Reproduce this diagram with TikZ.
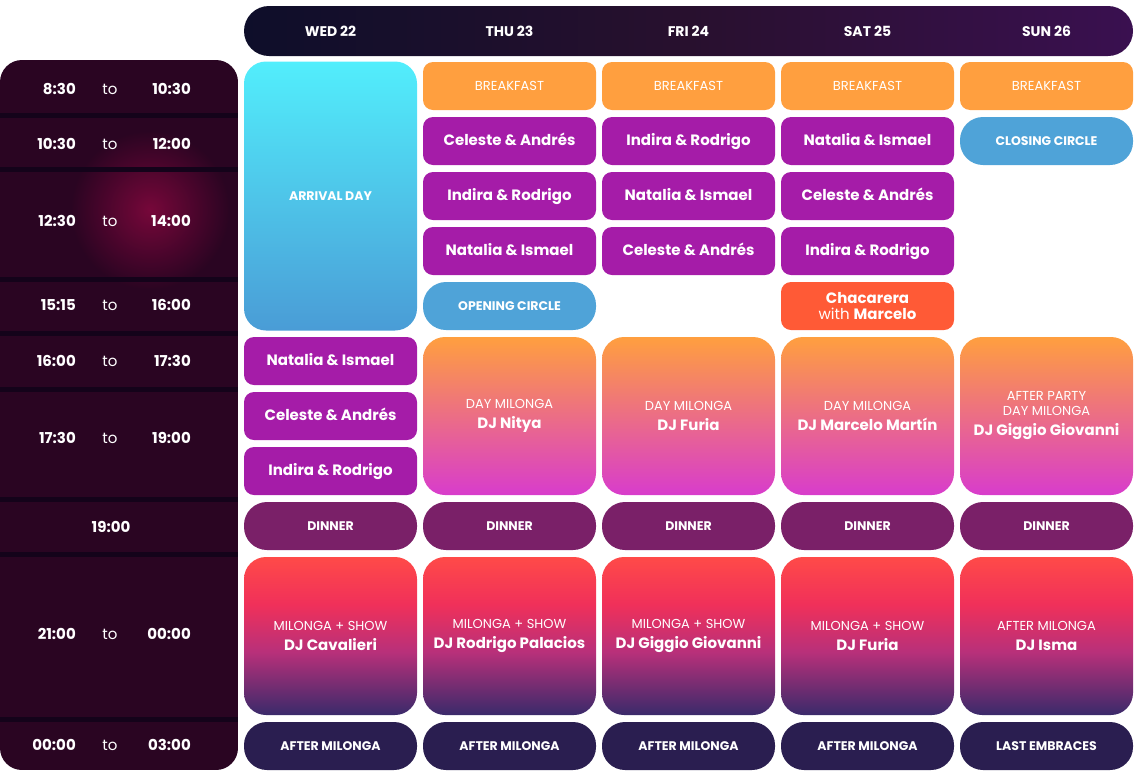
\documentclass[tikz,border=0pt]{standalone}
\usepackage{fontspec}
\setmainfont{Poppins}
\definecolor{brk}{HTML}{FF9F3F}
\definecolor{pur}{HTML}{A51CA8}
\definecolor{blu}{HTML}{4FA3D8}
\definecolor{cha}{HTML}{FF5A36}
\definecolor{din}{HTML}{7A2068}
\definecolor{aft}{HTML}{2A1E50}
\definecolor{tcol}{HTML}{2A0522}
\definecolor{tsep}{HTML}{14031A}
\definecolor{dmb}{HTML}{D83CCC}
\definecolor{mA}{HTML}{3A2A6A}
\definecolor{mB}{HTML}{B8307A}
\definecolor{mC}{HTML}{F0305A}
\definecolor{mD}{HTML}{FF4A48}
\definecolor{mE}{HTML}{FF5E40}
\definecolor{hA}{HTML}{0E0E2A}
\definecolor{hB}{HTML}{3A1050}
\definecolor{hC}{HTML}{28102E}
\definecolor{glow}{HTML}{8A0840}
\definecolor{arT}{HTML}{52EEFC}
\definecolor{arB}{HTML}{4A9CD6}
\pgfdeclareverticalshading{mil}{100bp}{color(0bp)=(mA); color(25bp)=(mA); color(45bp)=(mB); color(60bp)=(mC); color(75bp)=(mD); color(100bp)=(mE)}
\newcommand\ev[6]{\node[ev,#5,minimum height={#4-#3}] (#1) at (#2,{(#3+#4)/2}) {#6};}
\newcommand\tr[4]{%
 \node[tl,anchor=east] (#1a) at (76,#2) {#3};
 \node[tl,font=\fontsize{15}{17}\selectfont] (#1b) at (110,#2) {to};
 \node[tl,anchor=east] (#1c) at (191,#2) {#4};}
\tikzset{
 ev/.style={text=white,minimum width=173pt,inner sep=0pt,align=center,font=\fontsize{13}{15}\selectfont},
 sm/.style={rounded corners=10pt},
 big/.style={rounded corners=22pt},
 pill/.style={rounded corners=23pt},
 brkf/.style={sm,fill=brk,font=\fontsize{13}{15}\selectfont},
 purf/.style={sm,fill=pur,font=\bfseries\fontsize{15}{17}\selectfont,text height=11pt,text depth=3pt},
 circ/.style={pill,fill=blu,font=\bfseries\fontsize{12.5}{15}\selectfont},
 dm/.style={big,top color=brk,bottom color=dmb},
 ml/.style={big,shading=mil},
 dinf/.style={pill,fill=din,font=\bfseries\fontsize{12.5}{15}\selectfont},
 aftf/.style={pill,fill=aft,font=\bfseries\fontsize{12.5}{15}\selectfont},
 tl/.style={text=white,font=\bfseries\fontsize{15}{17}\selectfont,inner sep=0pt},
 hd/.style={text=white,font=\bfseries\fontsize{14}{16}\selectfont},
}
\newcommand\bd[1]{\textbf{#1}}
\newcommand\li[1]{{\fontseries{l}\selectfont #1}}
\begin{document}
\begin{tikzpicture}[x=1pt,y=-1pt]
\useasboundingbox (0,0) rectangle (1134,777);
% header
\shade[rounded corners=25pt,left color=hA,right color=hB,middle color=hC] (244,6) rectangle (1133,56);
\foreach \n/\x/\t in {w/330.5/WED 22,t/509.5/THU 23,f/688.5/FRI 24,s/867.5/SAT 25,u/1046.5/SUN 26}
  \node[hd] (h\n) at (\x,31) {\t};
% time column
\begin{scope}
\clip[rounded corners=22pt] (0,60) rectangle (238,770);
\fill[tcol] (0,60) rectangle (238,770);
\shade[inner color=glow,outer color=tcol,opacity=0.8] (150,210) circle (80);
\foreach \y in {115,169.5,279.5,333.5,389,499.5,554,719}
  \fill[tsep] (0,\y-2.5) rectangle (238,\y+2.5);
\end{scope}
\tr{r1}{89}{8:30}{10:30}
\tr{r2}{144}{10:30}{12:00}
\tr{r3}{221}{12:30}{14:00}
\tr{r4}{305}{15:15}{16:00}
\tr{r5}{361}{16:00}{17:30}
\tr{r6}{438}{17:30}{19:00}
\node[tl] (r7) at (111,527) {19:00};
\tr{r8}{634}{21:00}{00:00}
\tr{r9}{745}{00:00}{03:00}
% WED
\node[ev,big,top color=arT,bottom color=arB,minimum height=269pt,font=\bfseries\fontsize{12.5}{15}\selectfont] (arr) at (330.5,196) {ARRIVAL DAY};
\ev{w1}{330.5}{337}{385}{purf}{Natalia \& Ismael}
\ev{w2}{330.5}{392}{440}{purf}{Celeste \& Andrés}
\ev{w3}{330.5}{447}{495}{purf}{Indira \& Rodrigo}
\ev{wd}{330.5}{502}{550}{dinf}{DINNER}
\ev{wm}{330.5}{557}{715}{ml}{\li{MILONGA + SHOW}\\[5pt]\bd{\fontsize{15}{17}\selectfont DJ Cavalieri}}
\ev{wa}{330.5}{722}{770}{aftf}{AFTER MILONGA}
% THU
\ev{t0}{509.5}{62}{110}{brkf}{BREAKFAST}
\ev{t1}{509.5}{117}{165}{purf}{Celeste \& Andrés}
\ev{t2}{509.5}{172}{220}{purf}{Indira \& Rodrigo}
\ev{t3}{509.5}{227}{275}{purf}{Natalia \& Ismael}
\ev{t4}{509.5}{282}{330}{circ}{OPENING CIRCLE}
\ev{tm1}{509.5}{337}{495}{dm}{\li{DAY MILONGA}\\[5pt]\bd{\fontsize{15}{17}\selectfont DJ Nitya}}
\ev{td}{509.5}{502}{550}{dinf}{DINNER}
\ev{tm}{509.5}{557}{715}{ml}{\li{MILONGA + SHOW}\\[5pt]\bd{\fontsize{15}{17}\selectfont DJ Rodrigo Palacios}}
\ev{ta}{509.5}{722}{770}{aftf}{AFTER MILONGA}
% FRI
\ev{f0}{688.5}{62}{110}{brkf}{BREAKFAST}
\ev{f1}{688.5}{117}{165}{purf}{Indira \& Rodrigo}
\ev{f2}{688.5}{172}{220}{purf}{Natalia \& Ismael}
\ev{f3}{688.5}{227}{275}{purf}{Celeste \& Andrés}
\ev{fm1}{688.5}{337}{495}{dm}{\li{DAY MILONGA}\\[5pt]\bd{\fontsize{15}{17}\selectfont DJ Furia}}
\ev{fd}{688.5}{502}{550}{dinf}{DINNER}
\ev{fm}{688.5}{557}{715}{ml}{\li{MILONGA + SHOW}\\[5pt]\bd{\fontsize{15}{17}\selectfont DJ Giggio Giovanni}}
\ev{fa}{688.5}{722}{770}{aftf}{AFTER MILONGA}
% SAT
\ev{s0}{867.5}{62}{110}{brkf}{BREAKFAST}
\ev{s1}{867.5}{117}{165}{purf}{Natalia \& Ismael}
\ev{s2}{867.5}{172}{220}{purf}{Celeste \& Andrés}
\ev{s3}{867.5}{227}{275}{purf}{Indira \& Rodrigo}
\ev{s4}{867.5}{282}{330}{sm,fill=cha,font=\fontsize{15}{16}\selectfont}{\bd{Chacarera}\\\li{with} \bd{Marcelo}}
\ev{sm1}{867.5}{337}{495}{dm}{\li{DAY MILONGA}\\[5pt]\bd{\fontsize{15}{17}\selectfont DJ Marcelo Martín}}
\ev{sd}{867.5}{502}{550}{dinf}{DINNER}
\ev{sm}{867.5}{557}{715}{ml}{\li{MILONGA + SHOW}\\[5pt]\bd{\fontsize{15}{17}\selectfont DJ Furia}}
\ev{sa}{867.5}{722}{770}{aftf}{AFTER MILONGA}
% SUN
\ev{u0}{1046.5}{62}{110}{brkf}{BREAKFAST}
\ev{u1}{1046.5}{117}{165}{circ}{CLOSING CIRCLE}
\ev{um1}{1046.5}{337}{495}{dm}{\li{AFTER PARTY}\\\li{DAY MILONGA}\\[5pt]\bd{\fontsize{15}{17}\selectfont DJ Giggio Giovanni}}
\ev{ud}{1046.5}{502}{550}{dinf}{DINNER}
\ev{um}{1046.5}{557}{715}{ml}{\li{AFTER MILONGA}\\[5pt]\bd{\fontsize{15}{17}\selectfont DJ Isma}}
\ev{ua}{1046.5}{722}{770}{aftf}{LAST EMBRACES}
\end{tikzpicture}
\end{document}
